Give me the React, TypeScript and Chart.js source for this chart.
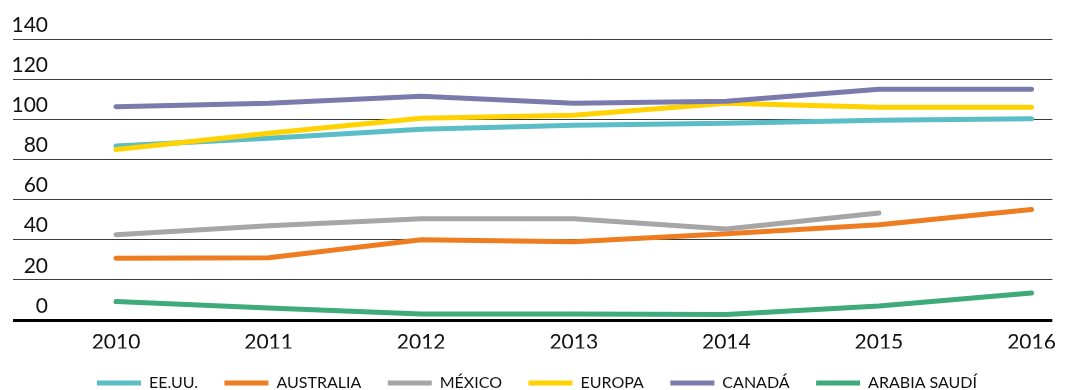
import React, { useEffect, useRef } from "react";
import { Chart, registerables } from "chart.js";

Chart.register(...registerables);

const years = [2010, 2011, 2012, 2013, 2014, 2015, 2016];
const yTicks = [0, 20, 40, 60, 80, 100, 120, 140];

const seriesNames = ["EE.UU.", "AUSTRALIA", "MÉXICO", "EUROPA", "CANADÁ", "ARABIA SAUDÍ"];
const seriesColors = ["#5bbec7", "#ee7d22", "#a6a6a6", "#ffd200", "#7b7aad", "#3faa7a"];

const eeuu = [86.7, 90.5, 95, 97, 98, 99.5, 100.3];
const australia = [30.8, 31, 40, 39, 43, 47.5, 55];
const mexico = [42.5, 47, 50.5, 50.5, 45.3, 53.3, null];
const europa = [85, 93, 100.5, 102, 108, 106, 106];
const canada = [106.3, 108, 111.5, 108, 109, 115, 115];
const arabia = [9.2, 6, 3, 3, 2.8, 7, 13.5];

const seriesValues = [eeuu, australia, mexico, europa, canada, arabia];

const FONT = "Lato, 'Noto Sans', sans-serif";

export default function App() {
  const ref = useRef<HTMLCanvasElement | null>(null);

  useEffect(() => {
    if (!ref.current) return;
    const datasets = seriesNames.map((name, i) => ({
      label: name,
      data: years.map((yr, j) => ({ x: yr, y: seriesValues[i][j] })),
      borderColor: seriesColors[i],
      backgroundColor: seriesColors[i],
      borderWidth: 5,
      borderCapStyle: "round" as const,
      borderJoinStyle: "round" as const,
      pointRadius: 0,
      pointHoverRadius: 0,
      tension: 0,
      clip: false as const,
      order: -i,
    }));

    const chart = new Chart(ref.current, {
      type: "line",
      data: { datasets },
      options: {
        animation: false,
        responsive: false,
        layout: { padding: { left: 13, right: 5, top: 39, bottom: -11 } },
        plugins: {
          tooltip: { enabled: false },
          legend: {
            position: "bottom",
            labels: {
              usePointStyle: true,
              pointStyle: "line",
              pointStyleWidth: 44,
              padding: 26.5,
              color: "#111",
              font: { family: FONT, size: 16 },
              sort: (a: any, b: any) => a.datasetIndex - b.datasetIndex,
            },
          },
        },
        scales: {
          x: {
            type: "linear",
            min: 2010,
            max: 2016.136,
            grid: { display: false, drawTicks: false },
            border: { display: false },
            afterBuildTicks: (scale: any) => {
              scale.ticks = years.map((v) => ({ value: v }));
            },
            afterFit: (scale: any) => {
              scale.height = 28.5;
            },
            ticks: {
              autoSkip: false,
              maxRotation: 0,
              padding: 10,
              color: "#111",
              font: { family: FONT, size: 21 },
              callback: (v: any) => String(v),
            },
          },
          y: {
            min: 0,
            max: 140,
            afterBuildTicks: (scale: any) => {
              scale.ticks = yTicks.map((v) => ({ value: v }));
            },
            afterFit: (scale: any) => {
              scale.width = 103;
            },
            border: { display: false },
            grid: {
              drawTicks: true,
              tickLength: 103,
              color: (c: any) => (c.tick && c.tick.value === 0 ? "#000" : "#3a3a3a"),
              lineWidth: (c: any) => (c.tick && c.tick.value === 0 ? 3 : 1),
              tickColor: (c: any) => (c.tick && c.tick.value === 0 ? "#000" : "#3a3a3a"),
              tickWidth: (c: any) => (c.tick && c.tick.value === 0 ? 3 : 1),
            },
            ticks: {
              padding: -35,
              labelOffset: -14,
              color: "#111",
              font: { family: FONT, size: 21 },
              callback: (v: any) => String(v),
            },
          },
        },
      },
    });
    return () => chart.destroy();
  }, []);

  return (
    <div
      style={{
        position: "fixed",
        left: 0,
        top: 0,
        width: 1066,
        height: 390,
        background: "#fff",
        overflow: "hidden",
      }}
    >
      <canvas ref={ref} width={1066} height={390} style={{ display: "block" }} />
    </div>
  );
}
